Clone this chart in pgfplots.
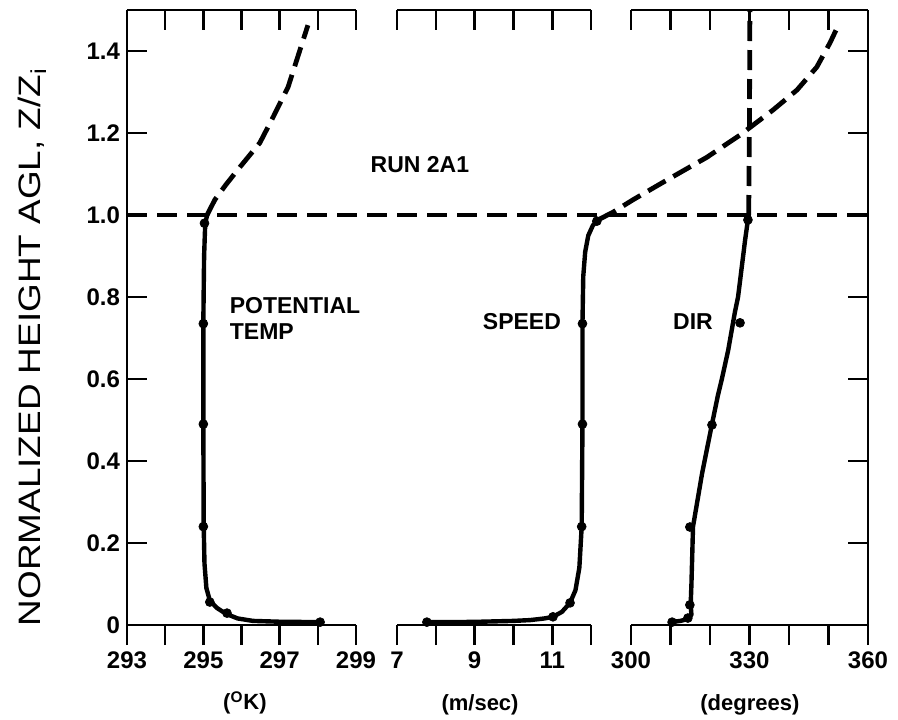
\documentclass[border=0pt]{standalone}
\usepackage{pgfplots}
\pgfplotsset{compat=1.18}
\usepackage{fontspec}
\setmainfont{Liberation Sans}
\usepackage{graphicx}

\pgfplotsset{
  base/.style={scale only axis, height=307.5pt, ymin=0, ymax=1.5, clip=false,
    axis line style={line width=1.3pt, black},
    every tick/.style={line width=1.3pt, black},
    major tick length=10pt,
    tick label style={font=\fontsize{12}{14}\selectfont\bfseries},
    /pgf/number format/assume math mode=true,
    ytick={0,0.2,0.4,0.6,0.8,1.0,1.2,1.4},
    yticklabels={0,0.2,0.4,0.6,0.8,1.0,1.2,1.4},
  },
  bottomax/.style={base, axis x line*=bottom, axis y line=none, tick align=outside},
  topax/.style={base, axis x line*=top, tick align=inside, xticklabels={}},
  solidc/.style={line width=2.2pt, black, line join=round, line cap=round},
  dashc/.style={line width=2.4pt, black, dash pattern=on 10pt off 4.5pt},
  dots/.style={only marks, mark=*, mark size=2.2pt, black},
}
\tikzset{
  ann/.style={font=\fontsize{11.5}{13}\selectfont\bfseries},
  unitl/.style={font=\fontsize{11}{13}\selectfont\bfseries},
}

\begin{document}
\begin{tikzpicture}
\useasboundingbox (-63.5pt,-47pt) rectangle (385.5pt,312.5pt);

% ---------- Panel 1: potential temperature ----------
\begin{axis}[bottomax, at={(0pt,0pt)}, anchor=south west, width=114.5pt,
  xmin=293, xmax=299, xtick={293,294,295,296,297,298,299},
  xticklabels={293,,295,,297,,299}]
  % horizontal reference line at Z/Zi = 1
  \addplot[line width=1.8pt, black, dash pattern=on 10pt off 5pt] coordinates {(293,1) (312.41,1)};
  \addplot[solidc] coordinates {
    (298.06,0.007) (297.0,0.008) (296.3,0.010) (295.9,0.016) (295.6,0.027)
    (295.35,0.042) (295.17,0.060) (295.08,0.090) (295.03,0.150) (295.01,0.240)
    (295.0,0.490) (295.0,0.740) (295.02,0.900) (295.05,0.980) (295.1,1.0)};
  \addplot[dashc] coordinates {
    (295.1,1.0) (295.3,1.037) (295.6,1.075) (295.96,1.117) (296.48,1.176)
    (296.83,1.239) (297.22,1.312) (297.53,1.402) (297.74,1.463)};
  \addplot[dots] coordinates {
    (298.06,0.007) (295.62,0.029) (295.17,0.056) (295.0,0.24) (295.0,0.49)
    (295.0,0.735) (295.03,0.98)};
  \node[ann, anchor=west] at (axis cs:295.51,0.780) {POTENTIAL};
  \node[ann, anchor=west] at (axis cs:295.51,0.715) {TEMP};
  \node[unitl] at (axis cs:296.09,-0.19) {(\textsuperscript{O}K)};
\end{axis}
\begin{axis}[topax, at={(0pt,0pt)}, anchor=south west, width=114.5pt,
  xmin=293, xmax=299, xtick={293,294,295,296,297,298,299},
  axis y line*=left,
  ylabel={\scalebox{1.19}[1]{NORMALIZED HEIGHT AGL, Z/Z\textsubscript{i}}},
  every axis y label/.style={at={(rel axis cs:-0.415,0.452)}, rotate=90, anchor=center,
    font=\fontsize{15.5}{17}\selectfont}]
\end{axis}

% ---------- Panel 2: wind speed ----------
\begin{axis}[bottomax, at={(135pt,0pt)}, anchor=south west, width=97pt,
  xmin=7, xmax=12, xtick={7,8,9,10,11,12},
  xticklabels={7,,9,,11,}]
  \addplot[solidc] coordinates {
    (7.77,0.007) (8.5,0.007) (9.14,0.008) (10.0,0.010) (10.43,0.012) (10.8,0.016)
    (11.02,0.020) (11.25,0.032) (11.46,0.054) (11.6,0.085) (11.7,0.14)
    (11.76,0.24) (11.78,0.49) (11.78,0.735) (11.8,0.85) (11.85,0.91)
    (11.93,0.95) (12.05,0.975) (12.18,0.988)};
  \addplot[dashc] coordinates {
    (12.18,0.988) (12.57,1.007) (13.08,1.037) (13.86,1.080) (14.99,1.141)
    (15.84,1.195) (16.69,1.256) (17.31,1.305) (17.82,1.361) (18.16,1.420)
    (18.39,1.466)};
  \addplot[dots] coordinates {
    (7.77,0.007) (11.02,0.02) (11.46,0.054) (11.76,0.24) (11.78,0.49)
    (11.78,0.735) (12.15,0.985)};
  \node[ann] at (axis cs:7.59,1.122) {RUN 2A1};
  \node[ann] at (axis cs:10.22,0.739) {SPEED};
  \node[unitl] at (axis cs:9.14,-0.195) {(m/sec)};
\end{axis}
\begin{axis}[topax, at={(135pt,0pt)}, anchor=south west, width=97pt,
  xmin=7, xmax=12, xtick={7,8,9,10,11,12}, axis y line=none]
\end{axis}

% ---------- Panel 3: wind direction ----------
\begin{axis}[bottomax, at={(252pt,0pt)}, anchor=south west, width=118.5pt,
  xmin=300, xmax=360, xtick={300,310,320,330,340,350,360},
  xticklabels={300,,,330,,,360}]
  \addplot[solidc] coordinates {
    (309.9,0.007) (312.5,0.010) (314.5,0.015) (315.3,0.025) (315.1,0.049)
    (315.3,0.10) (315.7,0.24) (318.0,0.37) (320.5,0.49) (322.0,0.56)
    (323.0,0.60) (324.6,0.67) (326.3,0.763) (327.1,0.80) (328.0,0.87)
    (328.9,0.94) (329.6,0.988) (329.8,1.0)};
  \addplot[dashc] coordinates {(329.8,1.0) (330.0,1.25) (330.1,1.5)};
  \addplot[dots] coordinates {
    (310.4,0.007) (314.4,0.017) (314.9,0.049) (314.9,0.239) (320.5,0.488)
    (327.6,0.737) (329.6,0.988)};
  \node[ann] at (axis cs:315.7,0.739) {DIR};
  \node[unitl] at (axis cs:330.1,-0.195) {(degrees)};
\end{axis}
\begin{axis}[topax, at={(252pt,0pt)}, anchor=south west, width=118.5pt,
  xmin=300, xmax=360, xtick={300,310,320,330,340,350,360},
  axis y line*=right, yticklabels={}]
\end{axis}
\end{tikzpicture}
\end{document}
